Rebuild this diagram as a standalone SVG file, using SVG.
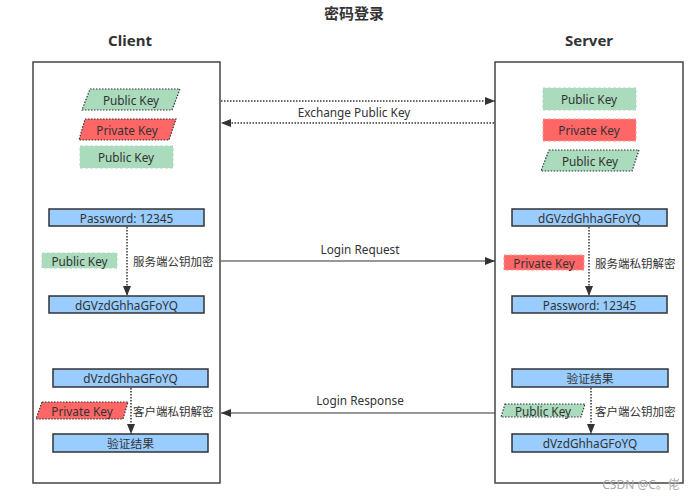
<svg xmlns="http://www.w3.org/2000/svg" width="699" height="498" viewBox="0 0 699 498">
<defs>
<style>
text{font-family:"Noto Sans","Noto Sans CJK SC",sans-serif;fill:#333;font-size:11.8px;text-anchor:middle;dominant-baseline:central}
.title{font-weight:bold;font-size:15px}
.head{font-weight:bold;font-size:15px}
.cjk{font-size:11.5px;text-anchor:start}
.frame{fill:#fff;stroke:#444;stroke-width:1.5}
.blue{fill:#99ccff;stroke:#333;stroke-width:1.5}
.gr{fill:#a9dbbc;stroke:#a9dbbc;stroke-width:1;stroke-dasharray:3 2}
.grp{fill:#a9dbbc;stroke:#333;stroke-width:1.2;stroke-dasharray:1.5 1.5}
.rd{fill:#ff6666;stroke:#ff9999;stroke-width:1;stroke-dasharray:3 2}
.rdp{fill:#ff6666;stroke:#333;stroke-width:1.2;stroke-dasharray:1.5 1.5}
.dot{fill:none;stroke:#333;stroke-width:1.5;stroke-dasharray:1.5 1.5}
.solid{fill:none;stroke:#333;stroke-width:1.2}
</style>
<marker id="ah" viewBox="0 0 10 8" refX="10" refY="4" markerWidth="10" markerHeight="8" markerUnits="userSpaceOnUse" orient="auto">
<path d="M0,0 L10,4 L0,8 Z" fill="#333"/>
</marker>
</defs>
<rect width="699" height="498" fill="#fff"/>
<text class="title" x="354" y="13">密码登录</text>
<text class="head" x="130" y="40">Client</text>
<text class="head" x="589" y="40">Server</text>

<g id="client"><rect class="frame" x="33" y="62" width="187" height="421"/></g>
<g id="server"><rect class="frame" x="495" y="62" width="188" height="421"/></g>

<g id="c-pub1"><polygon class="grp" points="90,89 180,89 172,110 82,110"/><text x="131" y="99.5">Public Key</text></g>
<g id="c-priv"><polygon class="rdp" points="85,119 176,119 169,140 79,140"/><text x="127" y="129.5">Private Key</text></g>
<g id="c-pub2"><rect class="gr" x="80" y="146" width="93" height="22"/><text x="126" y="157">Public Key</text></g>

<g id="s-pub1"><rect class="gr" x="543" y="88" width="93" height="22"/><text x="589" y="99">Public Key</text></g>
<g id="s-priv"><rect class="rd" x="543" y="119" width="93" height="22"/><text x="589" y="130">Private Key</text></g>
<g id="s-pub2"><polygon class="grp" points="549,150 639,150 632,171 541,171"/><text x="590" y="160.5">Public Key</text></g>

<g id="c-pass"><rect class="blue" x="49" y="209" width="155" height="17"/><text x="126.5" y="217.5">Password: 12345</text></g>
<g id="c-pubk"><rect class="gr" x="42" y="253" width="75" height="15"/><text x="79.5" y="260.5">Public Key</text></g>
<g id="c-enc"><rect class="blue" x="49" y="296" width="155" height="17"/><text x="126.5" y="304.5">dGVzdGhhaGFoYQ</text></g>

<g id="s-enc"><rect class="blue" x="512" y="209" width="155" height="17"/><text x="589.5" y="217.5">dGVzdGhhaGFoYQ</text></g>
<g id="s-privk"><rect class="rd" x="504" y="255" width="80" height="15"/><text x="544" y="262.5">Private Key</text></g>
<g id="s-pass"><rect class="blue" x="512" y="296" width="155" height="17"/><text x="589.5" y="304.5">Password: 12345</text></g>

<g id="c-resp"><rect class="blue" x="53" y="369" width="155" height="18"/><text x="130.5" y="378">dVzdGhhaGFoYQ</text></g>
<g id="c-privk"><polygon class="rdp" points="42,402 128,402 123,419 36,419"/><text x="82" y="410.5">Private Key</text></g>
<g id="c-res"><rect class="blue" x="53" y="434" width="155" height="18"/><text x="130.5" y="443">验证结果</text></g>

<g id="s-res"><rect class="blue" x="512" y="369" width="156" height="18"/><text x="590" y="378">验证结果</text></g>
<g id="s-pubk"><polygon class="grp" points="505,404 585,404 581,417 501,417"/><text x="543" y="410.5">Public Key</text></g>
<g id="s-resp"><rect class="blue" x="512" y="434" width="156" height="18"/><text x="590" y="443">dVzdGhhaGFoYQ</text></g>

<g id="connectors">
<line class="dot" x1="221" y1="101" x2="495" y2="101" marker-end="url(#ah)"/>
<line class="dot" x1="494" y1="123" x2="221" y2="123" marker-end="url(#ah)"/>
<text x="354" y="112">Exchange Public Key</text>
<line class="dot" x1="127" y1="227" x2="127" y2="296" marker-end="url(#ah)"/>
<text class="cjk" x="133" y="261">服务端公钥加密</text>
<line class="solid" x1="221" y1="261" x2="495" y2="261" marker-end="url(#ah)"/>
<text x="360" y="249">Login Request</text>
<line class="dot" x1="589" y1="227" x2="589" y2="296" marker-end="url(#ah)"/>
<text class="cjk" x="595" y="263">服务端私钥解密</text>
<line class="dot" x1="131" y1="388" x2="131" y2="434" marker-end="url(#ah)"/>
<text class="cjk" x="133" y="411">客户端私钥解密</text>
<line class="solid" x1="495" y1="413" x2="221" y2="413" marker-end="url(#ah)"/>
<text x="360" y="400">Login Response</text>
<line class="dot" x1="591" y1="388" x2="591" y2="434" marker-end="url(#ah)"/>
<text class="cjk" x="595" y="411">客户端公钥加密</text>
</g>
<text x="641" y="484" style="fill:#aaa;font-size:12px">CSDN @C。佬</text>
</svg>
